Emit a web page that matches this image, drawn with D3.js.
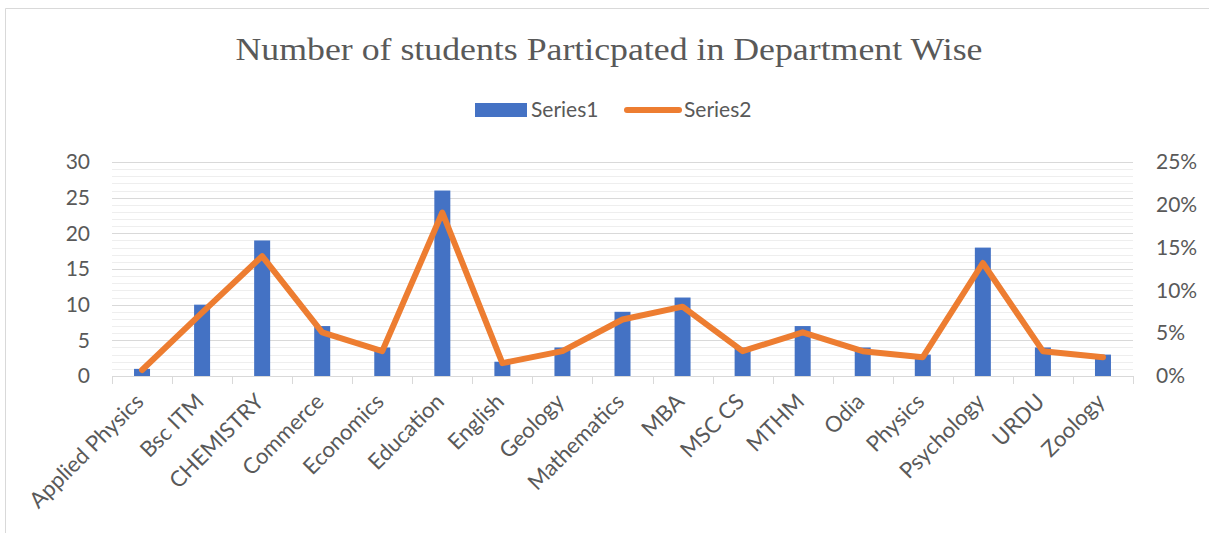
<!DOCTYPE html>
<html>
<head>
<meta charset="utf-8">
<script src="https://cdn.jsdelivr.net/npm/d3@7"></script>
<style>
  body { margin: 0; background: #fff; }
  svg { display: block; }
  text { font-family: Lato, "Liberation Sans", sans-serif; fill: #595959; }
</style>
</head>
<body>
<svg id="chart" width="1209" height="533"></svg>
<script>
// data
var departments = ["Applied Physics", "Bsc ITM", "CHEMISTRY", "Commerce", "Economics", "Education",
  "English", "Geology", "Mathematics", "MBA", "MSC CS", "MTHM", "Odia", "Physics", "Psychology", "URDU", "Zoology"];
var series1 = [1, 10, 19, 7, 4, 26, 2, 4, 9, 11, 4, 7, 4, 3, 18, 4, 3];
var series2 = [0.007, 0.074, 0.140, 0.051, 0.029, 0.191, 0.015, 0.029, 0.066, 0.081, 0.029, 0.051, 0.029, 0.022, 0.132, 0.029, 0.022];
var leftTicks = [0, 5, 10, 15, 20, 25, 30];
var rightTicks = [0, 0.05, 0.10, 0.15, 0.20, 0.25];
var titleText = "Number of students Particpated in Department Wise";

var svg = d3.select('#chart');
var W = 1209, H = 533;
var pLeft = 112, pRight = 1133, pTop = 162, pBottom = 376;

// outer frame (top + left only visible)
svg.append('line').attr('x1', 5.5).attr('x2', W).attr('y1', 8.5).attr('y2', 8.5).attr('stroke', '#d9d9d9');
svg.append('line').attr('x1', 5.5).attr('x2', 5.5).attr('y1', 8.5).attr('y2', H).attr('stroke', '#d9d9d9');

var x = d3.scaleBand().domain(departments).range([pLeft, pRight]);
var y = d3.scaleLinear().domain([0, 30]).range([pBottom, pTop]);
var y2 = d3.scaleLinear().domain([0, 0.25]).range([pBottom, pTop]);

// minor gridlines every 1, major every 5
var grid = svg.append('g');
grid.selectAll('line.minor')
  .data(d3.range(1, 30).filter(function(d){ return d % 5 != 0; }))
  .enter().append('line').attr('class', 'minor')
  .attr('x1', pLeft).attr('x2', pRight)
  .attr('y1', function(d){ return Math.round(y(d)) + 0.5; })
  .attr('y2', function(d){ return Math.round(y(d)) + 0.5; })
  .attr('stroke', '#eeeeee').attr('stroke-width', 1);
grid.selectAll('line.major')
  .data(leftTicks.slice(1))
  .enter().append('line').attr('class', 'major')
  .attr('x1', pLeft).attr('x2', pRight)
  .attr('y1', function(d){ return Math.round(y(d)) + 0.5; })
  .attr('y2', function(d){ return Math.round(y(d)) + 0.5; })
  .attr('stroke', '#d9d9d9').attr('stroke-width', 1);

// left axis
var yAxis = svg.append('g')
  .attr('transform', 'translate(' + (pLeft - 22) + ',0)')
  .call(d3.axisLeft(y).tickValues(leftTicks).tickSize(0).tickPadding(0));
yAxis.select('.domain').remove();
yAxis.selectAll('text').style('font-size', '21px').attr('fill', '#595959');

// right axis
var y2Axis = svg.append('g')
  .attr('transform', 'translate(' + (pRight + 23) + ',0)')
  .call(d3.axisRight(y2).tickValues(rightTicks).tickSize(0).tickPadding(0).tickFormat(d3.format('.0%')));
y2Axis.select('.domain').remove();
y2Axis.selectAll('text').style('font-size', '21px').attr('fill', '#595959');

// bars
var barW = 16;
svg.append('g').selectAll('rect')
  .data(series1)
  .enter().append('rect')
  .attr('x', function(d, i){ return x(departments[i]) + x.bandwidth() / 2 - barW / 2; })
  .attr('y', function(d){ return y(d); })
  .attr('width', barW)
  .attr('height', function(d){ return pBottom - y(d); })
  .attr('fill', '#4472C4');

// x axis line with ticks at category boundaries
var xg = svg.append('g');
xg.append('line').attr('x1', pLeft).attr('x2', pRight)
  .attr('y1', pBottom + 0.5).attr('y2', pBottom + 0.5).attr('stroke', '#d9d9d9');
xg.selectAll('line.tick')
  .data(departments.concat(['end']))
  .enter().append('line').attr('class', 'tick')
  .attr('x1', function(d, i){ return Math.round(pLeft + i * x.step()) + 0.5; })
  .attr('x2', function(d, i){ return Math.round(pLeft + i * x.step()) + 0.5; })
  .attr('y1', pBottom).attr('y2', pBottom + 8)
  .attr('stroke', '#d9d9d9');

// category labels
xg.selectAll('text')
  .data(departments)
  .enter().append('text')
  .attr('transform', function(d){
    return 'translate(' + (x(d) + x.bandwidth() / 2 + 3) + ',' + (pBottom + 27) + ') rotate(-45)';
  })
  .attr('text-anchor', 'end')
  .style('font-size', '22px')
  .text(function(d){ return d; });

// line series
var line = d3.line()
  .x(function(d, i){ return x(departments[i]) + x.bandwidth() / 2; })
  .y(function(d){ return y2(d); });
svg.append('path')
  .datum(series2)
  .attr('d', line)
  .attr('fill', 'none')
  .attr('stroke', '#ED7D31')
  .attr('stroke-width', 6)
  .attr('stroke-linejoin', 'round')
  .attr('stroke-linecap', 'round');

// title
svg.append('text')
  .attr('x', 609).attr('y', 60)
  .attr('text-anchor', 'middle')
  .style('font-family', '"Liberation Serif", "DejaVu Serif", serif')
  .style('font-size', '31px')
  .attr('textLength', 747)
  .attr('lengthAdjust', 'spacingAndGlyphs')
  .text(titleText);

// legend
var lg = svg.append('g');
lg.append('rect').attr('x', 475).attr('y', 103).attr('width', 52).attr('height', 14).attr('fill', '#4472C4');
lg.append('text').attr('x', 531).attr('y', 117).style('font-size', '21px').text('Series1');
lg.append('line').attr('x1', 627).attr('x2', 679).attr('y1', 110).attr('y2', 110)
  .attr('stroke', '#ED7D31').attr('stroke-width', 6).attr('stroke-linecap', 'round');
lg.append('text').attr('x', 684).attr('y', 117).style('font-size', '21px').text('Series2');
</script>
</body>
</html>
